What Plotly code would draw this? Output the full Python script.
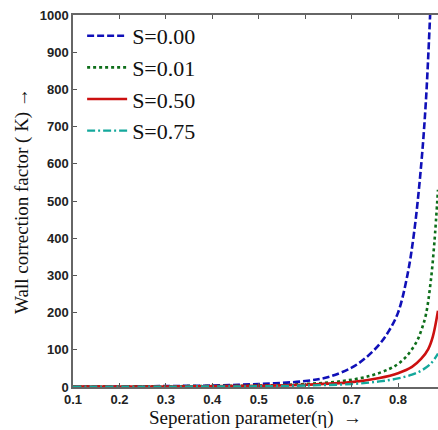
import plotly.graph_objects as go

# Wall correction factor K versus separation parameter eta for several slip values
eta_s000 = [0.10, 0.20, 0.30, 0.40, 0.50, 0.60, 0.65, 0.70, 0.73, 0.76, 0.78, 0.80, 0.82, 0.835, 0.85, 0.86, 0.869]
k_s000 = [1.0, 1.5, 2.5, 4.0, 8.0, 16, 27, 52, 78, 115, 150, 200, 300, 420, 600, 770, 1000]

eta_s001 = [0.10, 0.30, 0.50, 0.60, 0.68, 0.74, 0.78, 0.80, 0.82, 0.84, 0.85, 0.86, 0.87, 0.878, 0.886]
k_s001 = [1.0, 2.0, 4.0, 8.0, 16, 30, 48, 62, 85, 122, 152, 195, 280, 385, 530]

eta_s050 = [0.10, 0.30, 0.50, 0.60, 0.70, 0.76, 0.80, 0.83, 0.85, 0.865, 0.875, 0.886]
k_s050 = [1.0, 1.5, 3.0, 6.0, 13, 24, 37, 54, 76, 102, 136, 205]

eta_s075 = [0.10, 0.30, 0.50, 0.60, 0.70, 0.76, 0.80, 0.83, 0.85, 0.87, 0.886]
k_s075 = [0.5, 1.0, 2.0, 4.0, 8.0, 15, 23, 33, 44, 62, 90]

series_names = ["S=0.00", "S=0.01", "S=0.50", "S=0.75"]
x_ticks = [0.1, 0.2, 0.3, 0.4, 0.5, 0.6, 0.7, 0.8]
y_ticks = [0, 100, 200, 300, 400, 500, 600, 700, 800, 900, 1000]

styles = [
    dict(color="#1010b8", dash="7px,3px", width=2.6),
    dict(color="#0e6e1a", dash="dot", width=2.6),
    dict(color="#cc1010", dash="solid", width=2.6),
    dict(color="#14a89c", dash="8px,3px,2px,3px", width=2.4),
]

fig = go.Figure()
for name, xs, ys, st in zip(
    series_names,
    [eta_s000, eta_s001, eta_s050, eta_s075],
    [k_s000, k_s001, k_s050, k_s075],
    styles,
):
    fig.add_trace(go.Scatter(x=xs, y=ys, mode="lines", name=name,
                             line=dict(shape="spline", smoothing=1.0, **st)))

tick_font = dict(family="Liberation Sans, Arial", size=13, color="#222", weight="bold")
title_font = dict(family="Liberation Serif, Times New Roman", size=19, color="#111")

fig.update_layout(
    width=438, height=430,
    margin=dict(l=73, r=0, t=15, b=43),
    paper_bgcolor="white", plot_bgcolor="white",
    showlegend=True,
    legend=dict(
        x=0.025, y=1.0, xanchor="left", yanchor="top",
        font=dict(family="Liberation Serif, Times New Roman", size=22, color="#111"),
        bgcolor="rgba(0,0,0,0)", tracegroupgap=0, itemwidth=40,
    ),
    xaxis=dict(
        range=[0.1, 0.886], tickvals=x_ticks, ticktext=[f"{v:.1f}" for v in x_ticks],
        ticks="inside", ticklen=4, tickcolor="#555", showline=True, linecolor="#666",
        linewidth=1.5, mirror="ticks", showgrid=False, zeroline=False,
        tickfont=tick_font,
        title=dict(text="Seperation parameter(η)  →", font=title_font, standoff=3),
    ),
    yaxis=dict(
        range=[0, 1000], tickvals=y_ticks,
        ticks="inside", ticklen=4, tickcolor="#555", showline=True, linecolor="#666",
        linewidth=1.5, mirror=False, showgrid=False, zeroline=False,
        tickfont=tick_font,
        title=dict(text="Wall correction factor ( K) →", font=title_font, standoff=6),
    ),
)

fig.write_html("out.html")
